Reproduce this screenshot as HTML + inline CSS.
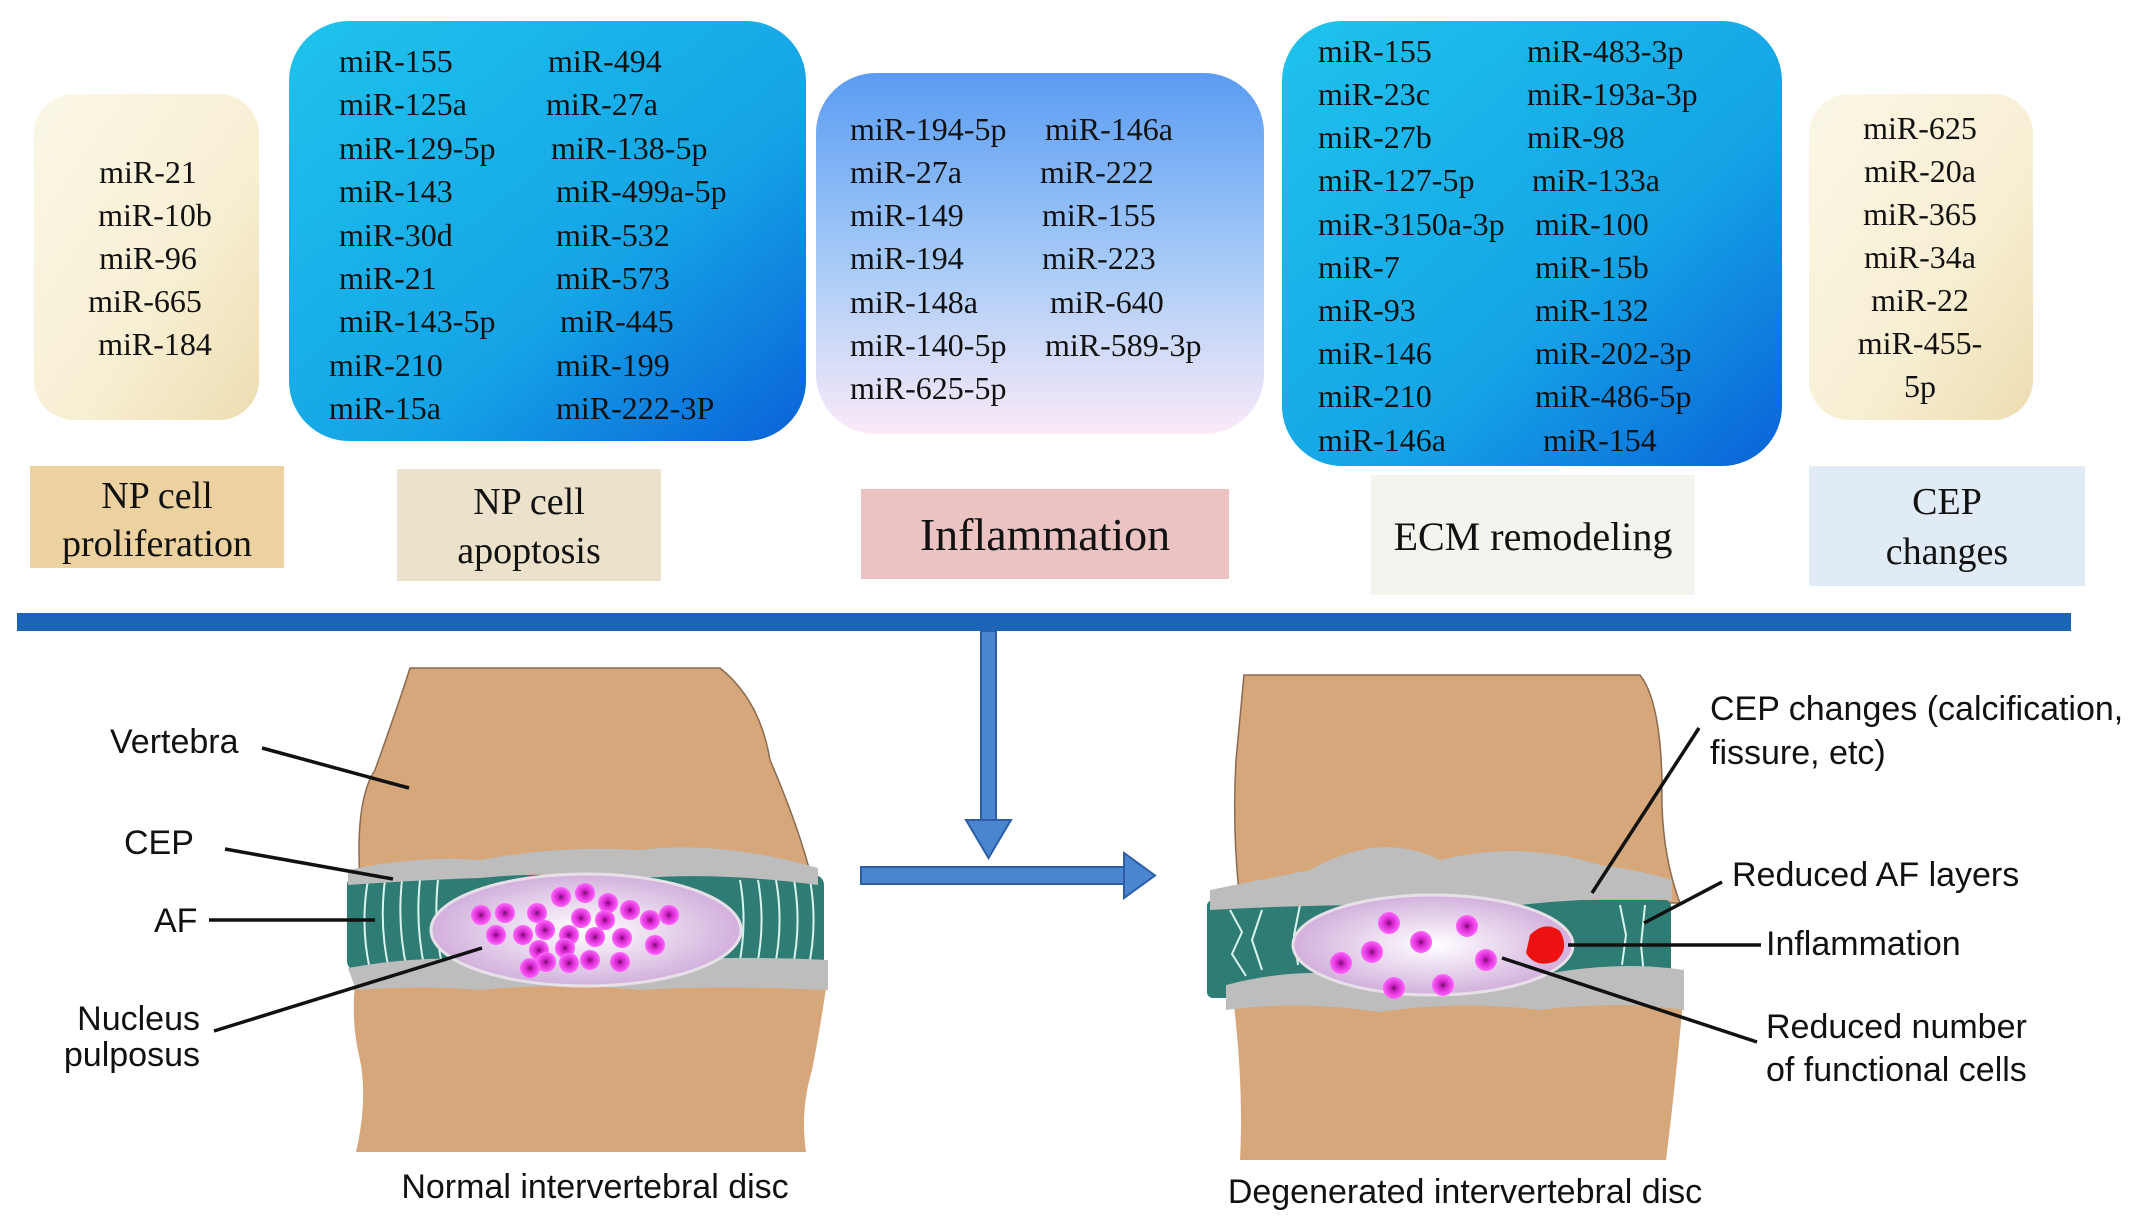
<!DOCTYPE html>
<html><head><meta charset="utf-8"><style>
html,body{margin:0;padding:0;background:#fff;width:2150px;height:1225px;overflow:hidden}
svg{display:block}
.m{font-family:"Liberation Serif",serif;font-size:32px;fill:#111}
.s{font-family:"Liberation Sans",sans-serif;font-size:34px;fill:#111}
.l{font-family:"Liberation Serif",serif;font-size:38px;fill:#111}
</style></head><body>
<svg width="2150" height="1225" viewBox="0 0 2150 1225" xmlns="http://www.w3.org/2000/svg">
<defs>
<linearGradient id="cream" x1="0" y1="0" x2="1" y2="1"><stop offset="0" stop-color="#fbf7e6"/><stop offset="0.6" stop-color="#f7efd3"/><stop offset="1" stop-color="#eddcb0"/></linearGradient>
<linearGradient id="blue" x1="0" y1="0" x2="1" y2="1"><stop offset="0" stop-color="#1fc3ec"/><stop offset="0.6" stop-color="#15a4e6"/><stop offset="1" stop-color="#0a62d8"/></linearGradient>
<linearGradient id="infl" x1="0" y1="0" x2="0" y2="1"><stop offset="0" stop-color="#5a9cf2"/><stop offset="0.55" stop-color="#a9ccf7"/><stop offset="1" stop-color="#fbeaf8"/></linearGradient>
<radialGradient id="np" cx="0.5" cy="0.5" r="0.5"><stop offset="0" stop-color="#ffffff"/><stop offset="1" stop-color="#d2b0dc"/></radialGradient>
<radialGradient id="cell"><stop offset="0" stop-color="#6a0f60"/><stop offset="0.3" stop-color="#d020c8"/><stop offset="1" stop-color="#ff66ff"/></radialGradient>
</defs>

<rect x="34" y="94" width="225" height="326" rx="40" fill="url(#cream)"/>
<rect x="289" y="21" width="517" height="420" rx="60" fill="url(#blue)"/>
<rect x="816" y="73" width="448" height="361" rx="60" fill="url(#infl)"/>
<rect x="1282" y="21" width="500" height="445" rx="60" fill="url(#blue)"/>
<rect x="1809" y="94" width="224" height="326" rx="40" fill="url(#cream)"/>

<g class="m" text-anchor="middle">
<text x="148" y="183">miR-21</text><text x="155" y="226">miR-10b</text><text x="148" y="269">miR-96</text><text x="145" y="312">miR-665</text><text x="155" y="355">miR-184</text>
<text x="1920" y="139">miR-625</text><text x="1920" y="182">miR-20a</text><text x="1920" y="225">miR-365</text><text x="1920" y="268">miR-34a</text><text x="1920" y="311">miR-22</text><text x="1920" y="354">miR-455-</text><text x="1920" y="397">5p</text>
</g>
<g class="m">
<text x="339" y="72">miR-155</text><text x="548" y="72">miR-494</text>
<text x="339" y="115">miR-125a</text><text x="546" y="115">miR-27a</text>
<text x="339" y="159">miR-129-5p</text><text x="551" y="159">miR-138-5p</text>
<text x="339" y="202">miR-143</text><text x="556" y="202">miR-499a-5p</text>
<text x="339" y="246">miR-30d</text><text x="556" y="246">miR-532</text>
<text x="339" y="289">miR-21</text><text x="556" y="289">miR-573</text>
<text x="339" y="332">miR-143-5p</text><text x="560" y="332">miR-445</text>
<text x="329" y="376">miR-210</text><text x="556" y="376">miR-199</text>
<text x="329" y="419">miR-15a</text><text x="556" y="419">miR-222-3P</text>

<text x="850" y="140">miR-194-5p</text><text x="1045" y="140">miR-146a</text>
<text x="850" y="183">miR-27a</text><text x="1040" y="183">miR-222</text>
<text x="850" y="226">miR-149</text><text x="1042" y="226">miR-155</text>
<text x="850" y="269">miR-194</text><text x="1042" y="269">miR-223</text>
<text x="850" y="313">miR-148a</text><text x="1050" y="313">miR-640</text>
<text x="850" y="356">miR-140-5p</text><text x="1045" y="356">miR-589-3p</text>
<text x="850" y="399">miR-625-5p</text>

<text x="1318" y="62">miR-155</text><text x="1527" y="62">miR-483-3p</text>
<text x="1318" y="105">miR-23c</text><text x="1527" y="105">miR-193a-3p</text>
<text x="1318" y="148">miR-27b</text><text x="1527" y="148">miR-98</text>
<text x="1318" y="191">miR-127-5p</text><text x="1532" y="191">miR-133a</text>
<text x="1318" y="235">miR-3150a-3p</text><text x="1535" y="235">miR-100</text>
<text x="1318" y="278">miR-7</text><text x="1535" y="278">miR-15b</text>
<text x="1318" y="321">miR-93</text><text x="1535" y="321">miR-132</text>
<text x="1318" y="364">miR-146</text><text x="1535" y="364">miR-202-3p</text>
<text x="1318" y="407">miR-210</text><text x="1535" y="407">miR-486-5p</text>
<text x="1318" y="451">miR-146a</text><text x="1543" y="451">miR-154</text>
</g>

<rect x="30" y="466" width="254" height="102" fill="#ecd2a0"/>
<rect x="397" y="469" width="264" height="112" fill="#ece2cc"/>
<rect x="861" y="489" width="368" height="90" fill="#ecc3c3"/>
<rect x="1371" y="475" width="324" height="120" fill="#f5f3ee"/>
<rect x="1809" y="466" width="276" height="120" fill="#e0ebf6"/>
<g class="l" text-anchor="middle">
<text x="157" y="508">NP cell</text><text x="157" y="556">proliferation</text>
<text x="529" y="514">NP cell</text><text x="529" y="563">apoptosis</text>
<text x="1045" y="550" font-size="46">Inflammation</text>
<text x="1533" y="550" font-size="40">ECM remodeling</text>
<text x="1947" y="514">CEP</text><text x="1947" y="564">changes</text>
</g>

<rect x="17" y="613" width="2054" height="18" fill="#1c64b8"/>
<rect x="981" y="631" width="15" height="192" fill="#4a86d0" stroke="#2c5ea8" stroke-width="2"/>
<polygon points="966,820 1011,820 988.5,858" fill="#4a86d0" stroke="#2c5ea8" stroke-width="2"/>
<rect x="861" y="867" width="265" height="17" fill="#4a86d0" stroke="#2c5ea8" stroke-width="2"/>
<polygon points="1124,853 1124,898 1155,875.5" fill="#4a86d0" stroke="#2c5ea8" stroke-width="2"/>

<!-- left disc -->
<path d="M410,668 L720,668 Q760,700 770,760 Q800,830 812,880 L360,880 Q355,800 375,770 Q400,700 410,668Z" fill="#d5a77a" stroke="#8b6a50" stroke-width="1.5"/>
<path d="M356,975 L828,975 Q820,1030 812,1070 Q800,1110 806,1152 L356,1152 Q368,1100 360,1060 Q350,1020 356,975Z" fill="#d5a77a"/>
<rect x="347" y="875" width="477" height="96" rx="10" fill="#2e7c74"/>
<g stroke="#d8f4ef" stroke-width="2" fill="none">
<path d="M368,880 q-8,45 2,90"/><path d="M385,880 q-6,45 4,90"/><path d="M402,880 q-5,45 5,90"/><path d="M420,880 q-5,45 5,90"/><path d="M438,880 q-5,45 5,90"/>
<path d="M740,880 q8,45 -2,90"/><path d="M758,880 q8,45 -2,90"/><path d="M776,880 q8,45 -2,90"/><path d="M794,880 q8,45 -2,90"/><path d="M810,880 q8,45 -2,90"/>
</g>
<path d="M348,870 Q420,855 480,860 Q560,845 640,850 Q720,840 818,868 L818,885 Q720,872 640,878 Q560,870 480,878 Q420,880 348,885Z" fill="#bdbdbd"/>
<path d="M348,968 Q420,955 480,960 Q560,955 640,962 Q720,955 828,960 L828,990 Q720,985 640,990 Q560,982 480,990 Q420,985 356,990Z" fill="#bdbdbd"/>
<ellipse cx="586" cy="930" rx="155" ry="56" fill="url(#np)" stroke="#e8e0e8" stroke-width="3"/>
<g fill="url(#cell)">
<circle cx="561" cy="897" r="10"/><circle cx="585" cy="893" r="10"/><circle cx="608" cy="903" r="10"/><circle cx="537" cy="913" r="10"/><circle cx="581" cy="918" r="10"/><circle cx="605" cy="920" r="10"/><circle cx="630" cy="910" r="10"/><circle cx="650" cy="920" r="10"/><circle cx="669" cy="915" r="10"/>
<circle cx="481" cy="915" r="10"/><circle cx="505" cy="913" r="10"/><circle cx="496" cy="935" r="10"/><circle cx="523" cy="935" r="10"/><circle cx="545" cy="930" r="10"/><circle cx="569" cy="935" r="10"/><circle cx="595" cy="937" r="10"/><circle cx="622" cy="938" r="10"/><circle cx="655" cy="945" r="10"/>
<circle cx="539" cy="950" r="10"/><circle cx="565" cy="948" r="10"/><circle cx="546" cy="962" r="10"/><circle cx="569" cy="963" r="10"/><circle cx="590" cy="960" r="10"/><circle cx="530" cy="968" r="10"/><circle cx="620" cy="962" r="10"/>
</g>
<g stroke="#111" stroke-width="3.5">
<line x1="262" y1="748" x2="409" y2="788"/><line x1="225" y1="849" x2="393" y2="879"/><line x1="209" y1="920" x2="375" y2="920"/><line x1="214" y1="1031" x2="482" y2="948"/>
</g>
<g class="s">
<text x="110" y="753">Vertebra</text><text x="124" y="854">CEP</text><text x="154" y="932">AF</text>
<text x="200" y="1030" text-anchor="end">Nucleus</text><text x="200" y="1066" text-anchor="end">pulposus</text>
<text x="595" y="1198" text-anchor="middle">Normal intervertebral disc</text>
</g>

<!-- right disc -->
<path d="M1244,675 L1640,675 Q1660,700 1662,780 Q1660,850 1680,903 L1240,903 Q1232,830 1236,760Z" fill="#d5a77a" stroke="#8b6a50" stroke-width="1.5"/>
<path d="M1232,990 L1684,990 Q1676,1080 1666,1160 L1240,1160 Q1244,1080 1232,990Z" fill="#d5a77a"/>
<rect x="1207" y="900" width="464" height="98" rx="6" fill="#2e7c74"/>
<g stroke="#d8f4ef" stroke-width="2" fill="none">
<path d="M1230,910 l12,22 l-10,22 l14,22"/><path d="M1262,910 l-10,30 l10,30"/><path d="M1300,905 l-6,30 l4,30"/><path d="M1620,905 l6,30 l-4,30"/><path d="M1645,905 l-4,40 l4,40"/>
</g>
<path d="M1210,890 Q1260,880 1310,870 Q1380,830 1440,860 Q1520,840 1600,865 Q1640,870 1672,880 L1672,900 Q1600,896 1520,905 Q1440,895 1380,905 Q1300,905 1210,910Z" fill="#bdbdbd"/>
<path d="M1226,985 Q1300,965 1380,978 Q1460,990 1540,975 Q1620,960 1684,970 L1684,1010 Q1620,1000 1540,1010 Q1460,1000 1380,1012 Q1300,1000 1226,1010Z" fill="#bdbdbd"/>
<ellipse cx="1433" cy="945" rx="140" ry="50" fill="url(#np)" stroke="#e8e0e8" stroke-width="3"/>
<g fill="url(#cell)">
<circle cx="1389" cy="923" r="11"/><circle cx="1467" cy="926" r="11"/><circle cx="1372" cy="952" r="11"/><circle cx="1421" cy="942" r="11"/><circle cx="1341" cy="963" r="11"/><circle cx="1394" cy="988" r="11"/><circle cx="1443" cy="985" r="11"/><circle cx="1486" cy="960" r="11"/>
</g>
<path d="M1530,935 q15,-15 30,-4 q10,18 -4,30 q-20,8 -30,-8Z" fill="#ee1111"/>
<g stroke="#111" stroke-width="3.5">
<line x1="1699" y1="728" x2="1592" y2="893"/><line x1="1722" y1="882" x2="1644" y2="923"/><line x1="1761" y1="945" x2="1568" y2="945"/><line x1="1757" y1="1042" x2="1502" y2="958"/>
</g>
<g class="s">
<text x="1710" y="720">CEP changes (calcification,</text><text x="1710" y="764">fissure, etc)</text>
<text x="1732" y="886">Reduced AF layers</text>
<text x="1766" y="955">Inflammation</text>
<text x="1766" y="1038">Reduced number</text><text x="1766" y="1081">of functional cells</text>
<text x="1465" y="1203" text-anchor="middle">Degenerated intervertebral disc</text>
</g>
</svg>
</body></html>
